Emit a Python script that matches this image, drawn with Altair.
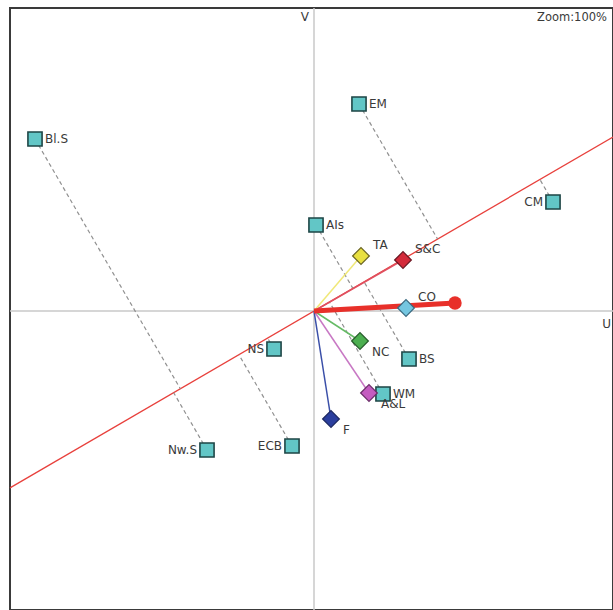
import altair as alt
import pandas as pd
import numpy as np

# ---- data ----
obj_names = ["EM", "Bl.S", "CM", "AIs", "NS", "BS", "WM", "Nw.S", "ECB"]
obj_u = [0.45, -2.79, 2.39, 0.02, -0.40, 0.95, 0.69, -1.07, -0.22]
obj_v = [2.07, 1.72, 1.09, 0.86, -0.38, -0.48, -0.83, -1.39, -1.35]
obj_label_left = ["CM", "NS", "Nw.S", "ECB"]

var_names = ["TA", "S&C", "CO", "NC", "A&L", "F"]
var_u = [0.47, 0.89, 0.92, 0.46, 0.55, 0.17]
var_v = [0.55, 0.51, 0.03, -0.30, -0.82, -1.08]
var_fill = ["#E8E040", "#D42A3A", "#74C6E0", "#4CAF50", "#C45CC0", "#2B3F9E"]
var_edge = ["#6a6420", "#6a1520", "#3a6a80", "#245a28", "#6a2c68", "#1a2660"]
var_line = ["#F0E878", "#E05060", "#8CD0E8", "#66BB66", "#C878C4", "#3A4FA8"]
var_label_up = ["TA", "S&C", "CO"]

target_u, target_v = 1.41, 0.08      # thick red arrow end
axis_slope = 0.582                   # slope of the red projection axis

x_dom = [-3.04, 2.99]
y_dom = [-2.99, 3.03]

# ---- tables ----
obj = pd.DataFrame({"name": obj_names, "u": obj_u, "v": obj_v})
d = np.array([1.0, axis_slope]) / np.hypot(1.0, axis_slope)
t = obj["u"] * d[0] + obj["v"] * d[1]
obj["pu"] = t * d[0]
obj["pv"] = t * d[1]

var = pd.DataFrame({"name": var_names, "u": var_u, "v": var_v, "edge": var_edge,
                    "fill": var_fill, "line": var_line, "ou": 0.0, "ov": 0.0})

redaxis = pd.DataFrame({"u": [x_dom[0]], "v": [x_dom[0] * axis_slope],
                        "u2": [x_dom[1]], "v2": [x_dom[1] * axis_slope]})
arrow = pd.DataFrame({"u": [0.0, target_u], "v": [0.0, target_v]})
arrow_end = pd.DataFrame({"u": [target_u], "v": [target_v]})
axes = pd.DataFrame({"u": [x_dom[0], 0.0], "v": [0.0, y_dom[0]],
                     "u2": [x_dom[1], 0.0], "v2": [0.0, y_dom[1]]})
corner = pd.DataFrame({"u": [0.0, x_dom[1], x_dom[1]], "v": [y_dom[1], 0.0, y_dom[1]],
                       "txt": ["V", "U", "Zoom:100%"]})

xs = alt.Scale(domain=x_dom, nice=False, zero=False)
ys = alt.Scale(domain=y_dom, nice=False, zero=False)
X = lambda f: alt.X(f, type="quantitative", scale=xs, axis=None)
Y = lambda f: alt.Y(f, type="quantitative", scale=ys, axis=None)
FONT = "DejaVu Sans"

axis_lines = alt.Chart(axes).mark_rule(color="#c8c8c8", strokeWidth=1.5).encode(
    x=X("u"), y=Y("v"), x2="u2", y2="v2")

red_line = alt.Chart(redaxis).mark_rule(color="#E8403C", strokeWidth=1.3).encode(
    x=X("u"), y=Y("v"), x2="u2", y2="v2")

dashes = alt.Chart(obj).mark_rule(color="#909090", strokeWidth=1.2, strokeDash=[4, 3]).encode(
    x=X("u"), y=Y("v"), x2="pu", y2="pv")

vec_lines = alt.Chart(var).mark_rule(strokeWidth=1.5).encode(
    x=X("ou"), y=Y("ov"), x2="u", y2="v",
    color=alt.Color("line:N", scale=None))

thick = alt.Chart(arrow).mark_line(color="#E8302A", strokeWidth=5).encode(
    x=X("u"), y=Y("v"))
thick_end = alt.Chart(arrow_end).mark_point(filled=True, shape="circle", size=180,
                                             color="#E8302A", opacity=1).encode(
    x=X("u"), y=Y("v"))

squares = alt.Chart(obj).mark_square(size=200, fill="#62C6C6", stroke="#1E4646",
                                     strokeWidth=1.6, opacity=1).encode(
    x=X("u"), y=Y("v"))

diamonds = alt.Chart(var).mark_point(shape="diamond", filled=True, size=280,
                                     strokeWidth=1.2, opacity=1).encode(
    x=X("u"), y=Y("v"), fill=alt.Color("fill:N", scale=None),
    stroke=alt.Color("edge:N", scale=None))

lab_style = dict(font=FONT, fontSize=12, color="#3a3a3a")

obj_lab_r = alt.Chart(obj).transform_filter(
    ~alt.FieldOneOfPredicate(field="name", oneOf=obj_label_left)
).mark_text(align="left", baseline="middle", dx=10, **lab_style).encode(
    x=X("u"), y=Y("v"), text="name")
obj_lab_l = alt.Chart(obj).transform_filter(
    alt.FieldOneOfPredicate(field="name", oneOf=obj_label_left)
).mark_text(align="right", baseline="middle", dx=-10, **lab_style).encode(
    x=X("u"), y=Y("v"), text="name")

var_lab_up = alt.Chart(var).transform_filter(
    alt.FieldOneOfPredicate(field="name", oneOf=var_label_up)
).mark_text(align="left", baseline="middle", dx=12, dy=-11, **lab_style).encode(
    x=X("u"), y=Y("v"), text="name")
var_lab_dn = alt.Chart(var).transform_filter(
    ~alt.FieldOneOfPredicate(field="name", oneOf=var_label_up)
).mark_text(align="left", baseline="middle", dx=12, dy=11, **lab_style).encode(
    x=X("u"), y=Y("v"), text="name")

c_v = alt.Chart(corner).transform_filter(alt.datum.txt == "V").mark_text(
    align="right", baseline="top", dx=-5, dy=4, **lab_style).encode(
    x=X("u"), y=Y("v"), text="txt")
c_u = alt.Chart(corner).transform_filter(alt.datum.txt == "U").mark_text(
    align="right", baseline="top", dx=-2, dy=8, **lab_style).encode(
    x=X("u"), y=Y("v"), text="txt")
c_z = alt.Chart(corner).transform_filter(alt.datum.txt == "Zoom:100%").mark_text(
    align="right", baseline="top", dx=-6, dy=4, font=FONT, fontSize=11.5, color="#3a3a3a").encode(
    x=X("u"), y=Y("v"), text="txt")

chart = alt.layer(
    axis_lines, red_line, dashes, vec_lines, thick, thick_end,
    squares, diamonds, obj_lab_r, obj_lab_l, var_lab_up, var_lab_dn, c_v, c_u, c_z
).properties(
    width=603, height=602,
    autosize="none",
    padding={"left": 10, "top": 8, "right": 0, "bottom": 0},
    background="white",
).configure_view(stroke="#3a3a3a", strokeWidth=2)

chart.save("out.html", embed_options={"renderer": "svg", "actions": False})
